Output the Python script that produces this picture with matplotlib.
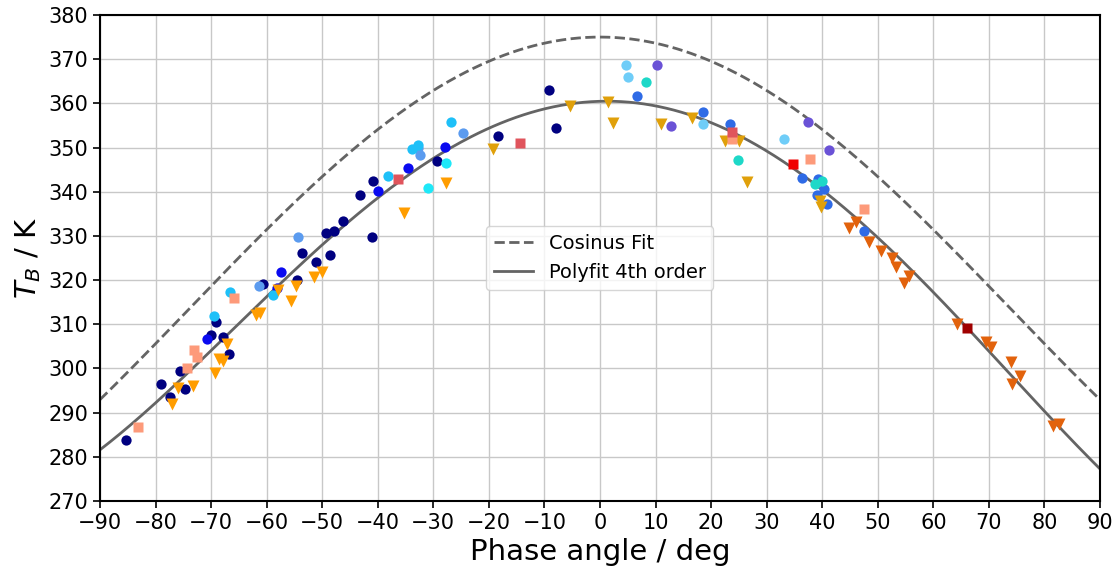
import numpy as np
import matplotlib
matplotlib.use("Agg")
import matplotlib.pyplot as plt

# Brightness temperature vs. phase angle, grouped by observation (colour/marker)
navy_phase = [-85.3, -79.1, -77.4, -74.7, -75.6, -66.7, -67.9, -70.1, -69.1, -60.6,
              -54.5, -53.6, -51.1, -48.6, -49.4, -47.9, -46.3, -43.2, -40.9, -41.0,
              -29.3, -18.4, -9.2, -7.9]
navy_tb = [283.7, 296.5, 293.6, 295.3, 299.4, 303.2, 307.1, 307.6, 310.5, 319.1,
           320.1, 326.2, 324.2, 325.6, 330.6, 331.1, 333.4, 339.3, 342.5, 329.7,
           347.0, 352.7, 363.1, 354.5]

blue_phase = [-70.7, -58.2, -57.4, -40.0, -34.6, -27.9]
blue_tb = [306.7, 318.2, 321.8, 340.2, 345.4, 350.2]

royal_phase = [6.7, 18.5, 23.4, 36.4, 39.2, 40.3, 39.0, 40.9, 47.6]
royal_tb = [361.7, 358.1, 355.4, 343.1, 342.9, 340.6, 339.2, 337.2, 331.1]

cornflower_phase = [-61.3, -54.4, -32.7, -32.4, -24.6]
cornflower_tb = [318.7, 329.8, 350.0, 348.2, 353.4]

deepsky_phase = [-69.4, -66.6, -58.9, -38.1, -33.8, -32.7, -26.8]
deepsky_tb = [311.9, 317.4, 316.7, 343.6, 349.7, 350.6, 355.7]

cyan_phase = [-30.9, -27.7]
cyan_tb = [340.8, 346.6]

lightsky_phase = [4.7, 5.0, 18.6, 33.2]
lightsky_tb = [368.6, 365.9, 355.3, 352.0]

turquoise_phase = [8.2, 24.9, 38.7, 40.0]
turquoise_tb = [364.9, 347.2, 341.7, 342.4]

slate_phase = [10.3, 12.8, 37.4, 41.2]
slate_tb = [368.7, 354.9, 355.8, 349.4]

orange_phase = [-77.1, -75.9, -73.2, -69.3, -68.5, -67.8, -67.2, -62.0, -61.2, -57.9,
                -55.7, -54.8, -51.4, -50.0, -35.3, -27.7]
orange_tb = [292.0, 295.5, 296.0, 299.0, 302.1, 301.7, 305.5, 312.1, 312.5, 317.8,
             315.3, 318.7, 320.8, 321.8, 335.2, 342.0]

gold_phase = [-19.3, -5.4, 1.4, 2.4, 11.0, 16.6, 22.5, 25.0, 26.5, 39.6, 39.7]
gold_tb = [349.6, 359.5, 360.2, 355.6, 355.3, 356.7, 351.5, 351.5, 342.1, 338.0, 336.5]

rust_phase = [44.9, 46.1, 48.5, 50.5, 52.6, 53.3, 55.6, 54.7, 64.2, 69.4, 70.3, 73.9,
              75.6, 74.2, 81.6, 82.7]
rust_tb = [331.8, 333.2, 328.7, 326.6, 325.1, 323.0, 321.0, 319.3, 310.0, 305.9, 304.8,
           301.4, 298.4, 296.5, 287.0, 287.4]

salmon_phase = [-83.2, -74.4, -73.0, -72.5, -65.9, 23.8, 37.8, 47.6]
salmon_tb = [286.8, 300.2, 304.2, 302.5, 315.9, 351.9, 347.4, 336.1]

indianred_phase = [-36.4, -14.4, 23.8]
indianred_tb = [342.8, 351.1, 353.6]

red_phase = [34.8]
red_tb = [346.3]

darkred_phase = [66.1]
darkred_tb = [309.1]

# Cosine fit parameters: T = offset + amp * cos(freq * phase)
COS_OFFSET = 313.7
COS_AMP = 61.3
COS_FREQ = 1.22

groups = [
    (navy_phase, navy_tb, "o", "#000080"),
    (blue_phase, blue_tb, "o", "#0a0af0"),
    (royal_phase, royal_tb, "o", "#2f6be6"),
    (cornflower_phase, cornflower_tb, "o", "#5b9bef"),
    (deepsky_phase, deepsky_tb, "o", "#1ec0f8"),
    (cyan_phase, cyan_tb, "o", "#1ee8f8"),
    (lightsky_phase, lightsky_tb, "o", "#6fcdf8"),
    (turquoise_phase, turquoise_tb, "o", "#1ed8c8"),
    (slate_phase, slate_tb, "o", "#6a52d6"),
    (orange_phase, orange_tb, "v", "#ff9d00"),
    (gold_phase, gold_tb, "v", "#e0a00a"),
    (rust_phase, rust_tb, "v", "#e2620c"),
    (salmon_phase, salmon_tb, "s", "#fd9a7a"),
    (indianred_phase, indianred_tb, "s", "#e0545c"),
    (red_phase, red_tb, "s", "#f00000"),
    (darkred_phase, darkred_tb, "s", "#a00000"),
]
marker_size = {"o": 7.4, "v": 8.4, "s": 7.2}

all_phase = np.concatenate([np.asarray(g[0]) for g in groups])
all_tb = np.concatenate([np.asarray(g[1]) for g in groups])
poly = np.polyfit(all_phase, all_tb, 4)

fig = plt.figure(figsize=(11.18, 5.72), dpi=100)
ax = fig.add_axes([0.0894, 0.1241, 0.8945, 0.8497])

xs = np.linspace(-90, 90, 400)
ax.plot(xs, COS_OFFSET + COS_AMP * np.cos(np.radians(COS_FREQ * xs)),
        ls="--", color="#646464", lw=2, label="Cosinus Fit", zorder=2)
ax.plot(xs, np.polyval(poly, xs), ls="-", color="#646464", lw=2,
        label="Polyfit 4th order", zorder=2)

for ph, tb, mk, col in groups:
    ax.plot(ph, tb, ls="none", marker=mk, ms=marker_size[mk], color=col,
            mec="none", zorder=3)

ax.set_xlim(-90, 90)
ax.set_ylim(270, 380)
ax.set_xticks(np.arange(-90, 91, 10))
ax.set_yticks(np.arange(270, 381, 10))
ax.grid(True, color="#c8c8c8", lw=1)
ax.set_axisbelow(True)
ax.tick_params(labelsize=15, width=1.2, length=5)
for sp in ax.spines.values():
    sp.set_linewidth(1.5)

ax.set_xlabel("Phase angle / deg", fontsize=21)
ax.set_ylabel(r"$T_B$ / K", fontsize=21)
ax.legend(loc="center", fontsize=14)

fig.savefig("out.png", dpi=100)
